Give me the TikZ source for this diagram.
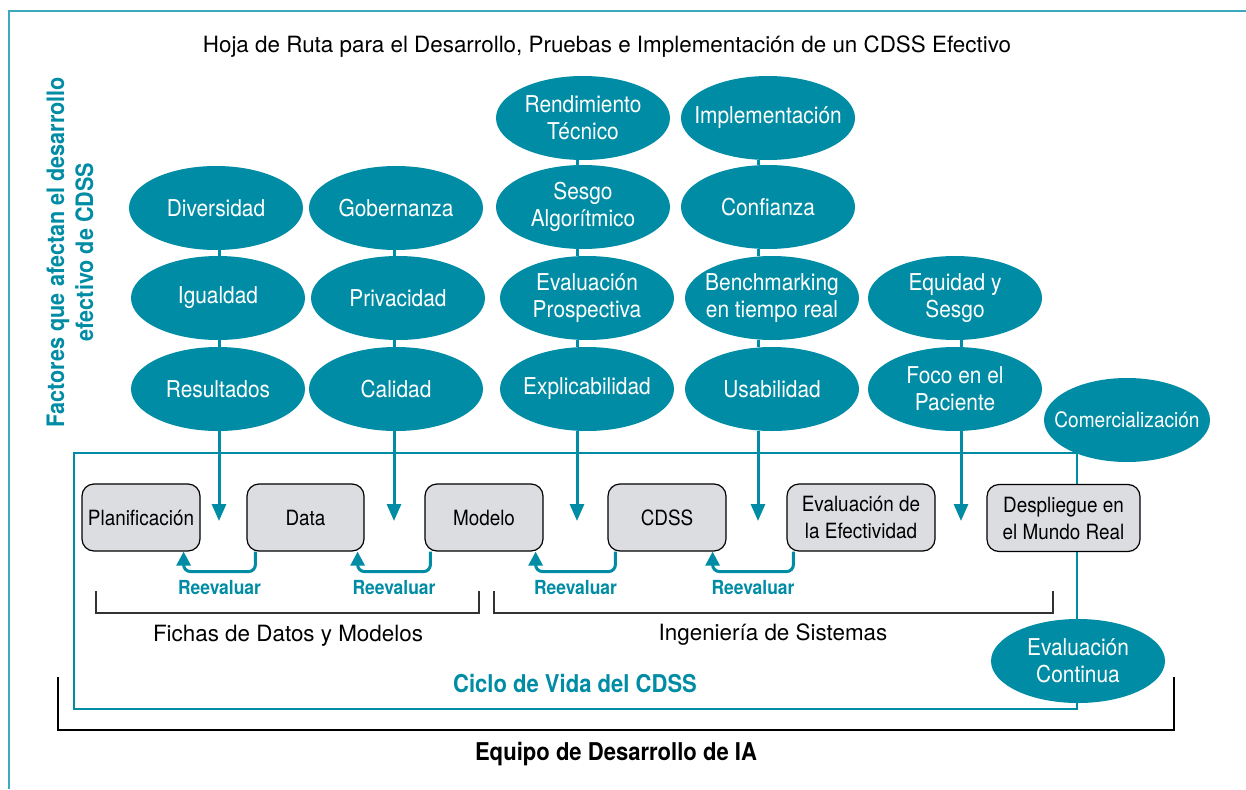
\documentclass[tikz,border=0pt]{standalone}
\usepackage{fontspec}
\setmainfont{TeX Gyre Heros}
\newfontfamily\condfont[FakeStretch=0.9]{TeX Gyre Heros}
\usetikzlibrary{arrows.meta,shapes.geometric}
\definecolor{teal1}{RGB}{0,140,164}
\definecolor{frameteal}{RGB}{60,170,190}
\definecolor{boxgray}{RGB}{220,221,225}
\definecolor{brk}{RGB}{50,50,50}
\begin{document}
\begin{tikzpicture}[x=1pt,y=-1pt,
  ell/.style={ellipse, fill=teal1, text=white, minimum width=174pt, minimum height=84pt,
    inner xsep=-30pt, inner ysep=-6pt, align=center, font=\condfont\fontsize{23.2}{27}\selectfont},
  stage/.style={draw=black, line width=1.2pt, fill=boxgray, rounded corners=12pt,
    minimum height=67pt, inner sep=0pt, align=center, font=\condfont\fontsize{21}{27}\selectfont},
  link/.style={teal1, line width=3pt},
  arr/.style={teal1, line width=3pt, -{Triangle[length=17pt,width=14pt]}},
  loopa/.style={teal1, line width=3pt, rounded corners=7pt, -{Triangle[length=14pt,width=14pt]}},
  lbl/.style={text=teal1, font=\condfont\bfseries\fontsize{19.4}{22}\selectfont, inner sep=0pt},
  brace/.style={draw=brk, line width=1.6pt},
  plain/.style={font=\fontsize{22.4}{26}\selectfont, inner sep=0pt},
  headb/.style={font=\condfont\bfseries\fontsize{24.5}{28}\selectfont, inner sep=0pt}
]
\useasboundingbox (0,0) rectangle (1246,789);
% outer frame
\draw[frameteal, line width=1.8pt] (9,789) -- (9,11) -- (1246,11);
% title
\node[plain] (title) at (607,47) {Hoja de Ruta para el Desarrollo, Pruebas e Implementación de un CDSS Efectivo};
% side label
\node[rotate=90, text=teal1, align=center, font=\condfont\bfseries\fontsize{24}{29}\selectfont, inner sep=0pt] (side) at (70,252)
  {Factores que afectan el desarrollo\\efectivo de CDSS};
% lifecycle frame
\draw[teal1, line width=2.5pt] (74,453) rectangle (1077,709);
% team bracket
\draw[black, line width=2.6pt] (58,677) -- (58,730) -- (1174,730) -- (1174,677);
% section brackets
\draw[brace] (96,591) -- (96,613) -- (479,613) -- (479,591);
\draw[brace] (494,591) -- (494,613) -- (1053,613) -- (1053,591);
\node[plain] (fichas) at (288,636) {Fichas de Datos y Modelos};
\node[plain] (ingen) at (773,635) {Ingeniería de Sistemas};
\node[headb, text=teal1] (ciclo) at (575,684) {Ciclo de Vida del CDSS};
\node[headb] (equipo) at (616,754) {Equipo de Desarrollo de IA};

% column x positions for connectors
\coordinate (c1) at (219,521);
\coordinate (c2) at (394,521);
\coordinate (c3) at (577,521);
\coordinate (c4) at (758,521);
\coordinate (c5) at (961,521);

% ellipses
\node[ell] (div) at (216,208) {Diversidad};
\node[ell] (igu) at (218,298) {Igualdad};
\node[ell] (res) at (218,389) {Resultados};
\node[ell] (gob) at (396,208) {Gobernanza};
\node[ell] (pri) at (398,298) {Privacidad};
\node[ell] (cal) at (396,389) {Calidad};
\node[ell] (ren) at (583,118) {Rendimiento\\Técnico};
\node[ell] (ses) at (583,207) {Sesgo\\Algorítmico};
\node[ell] (evp) at (587,298) {Evaluación\\Prospectiva};
\node[ell] (exp) at (587,389) {Explicabilidad};
\node[ell] (imp) at (768,118) {Implementación};
\node[ell] (con) at (768,207) {Confianza};
\node[ell] (ben) at (772,298) {Benchmarking\\en tiempo real};
\node[ell] (usa) at (772,389) {Usabilidad};
\node[ell] (equ) at (955,298) {Equidad y\\Sesgo};
\node[ell] (foc) at (955,389) {Foco en el\\Paciente};
\node[ell, minimum width=166pt, font=\condfont\fontsize{21.2}{27}\selectfont] (com) at (1127,420) {Comercialización};
\node[ell] (eco) at (1078,661) {Evaluación\\Continua};

% ellipse links
\draw[link] (div.south -| c1) -- (igu.north -| c1);
\draw[link] (igu.south -| c1) -- (res.north -| c1);
\draw[link] (gob.south -| c2) -- (pri.north -| c2);
\draw[link] (pri.south -| c2) -- (cal.north -| c2);
\draw[link] (ren.south -| c3) -- (ses.north -| c3);
\draw[link] (ses.south -| c3) -- (evp.north -| c3);
\draw[link] (evp.south -| c3) -- (exp.north -| c3);
\draw[link] (imp.south -| c4) -- (con.north -| c4);
\draw[link] (con.south -| c4) -- (ben.north -| c4);
\draw[link] (ben.south -| c4) -- (usa.north -| c4);
\draw[link] (equ.south -| c5) -- (foc.north -| c5);

% down arrows
\draw[arr] (res.south -| c1) -- (c1);
\draw[arr] (cal.south -| c2) -- (c2);
\draw[arr] (exp.south -| c3) -- (c3);
\draw[arr] (usa.south -| c4) -- (c4);
\draw[arr] (foc.south -| c5) -- (c5);

% stage boxes
\node[stage, minimum width=118pt] (pla) at (141,517.5) {Planificación};
\node[stage, minimum width=117pt] (dat) at (305.5,517.5) {Data};
\node[stage, minimum width=118pt] (mod) at (484,517.5) {Modelo};
\node[stage, minimum width=118pt] (cds) at (667,517.5) {CDSS};
\node[stage, minimum width=148pt] (efe) at (861,517.5) {Evaluación de\\la Efectividad};
\node[stage, minimum width=153pt] (des) at (1063.5,518) {Despliegue en\\el Mundo Real};

% reevaluate loops
\draw[loopa] ([xshift=9pt]dat.south west) -- ++(0,20) -| node[pos=0.25, lbl, yshift=-16pt] {Reevaluar} ([xshift=-17pt]pla.south east);
\draw[loopa] ([xshift=6pt]mod.south west) -- ++(0,20) -| node[pos=0.25, lbl, yshift=-16pt] {Reevaluar} ([xshift=-7pt]dat.south east);
\draw[loopa] ([xshift=8pt]cds.south west) -- ++(0,20) -| node[pos=0.25, lbl, yshift=-16pt] {Reevaluar} ([xshift=-8pt]mod.south east);
\draw[loopa] ([xshift=7pt]efe.south west) -- ++(0,20) -| node[pos=0.25, lbl, yshift=-16pt] {Reevaluar} ([xshift=-14pt]cds.south east);
\end{tikzpicture}
\end{document}
